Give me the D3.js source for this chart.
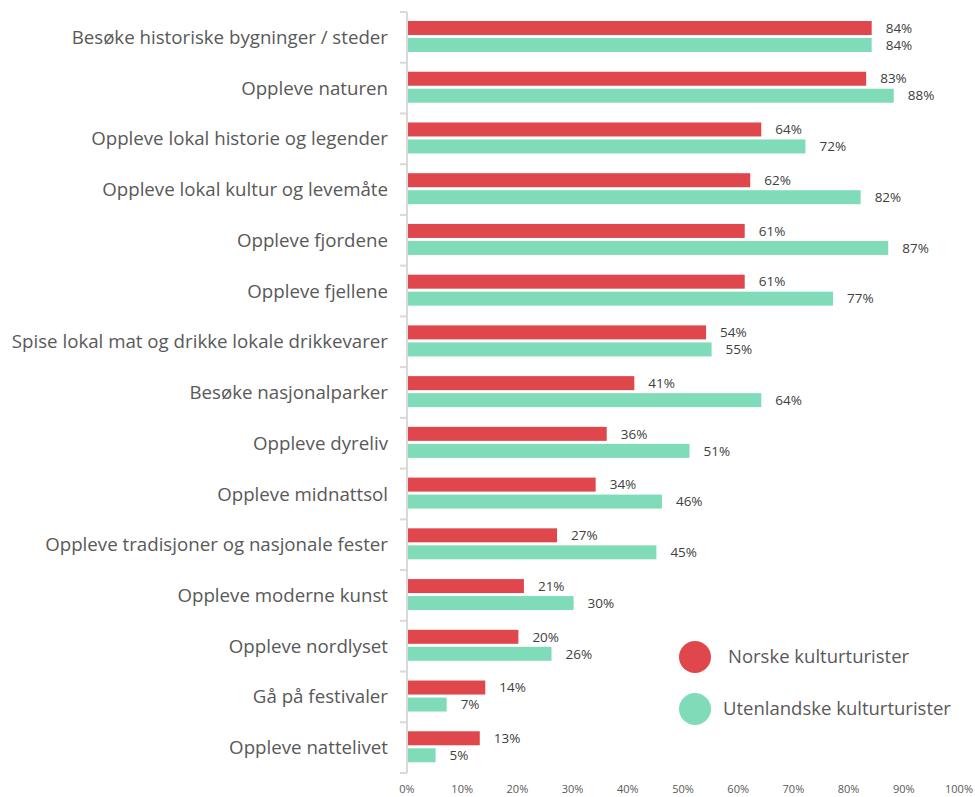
<!DOCTYPE html>
<html>
<head>
<meta charset="utf-8">
<script src="https://cdn.jsdelivr.net/npm/d3@7"></script>
<style>
  body { margin: 0; background: #fff; }
  svg text { font-family: "Open Sans", Lato, sans-serif; }
</style>
</head>
<body>
<div id="chart"></div>
<script>
var categories = [
    "Besøke historiske bygninger / steder",
    "Oppleve naturen",
    "Oppleve lokal historie og legender",
    "Oppleve lokal kultur og levemåte",
    "Oppleve fjordene",
    "Oppleve fjellene",
    "Spise lokal mat og drikke lokale drikkevarer",
    "Besøke nasjonalparker",
    "Oppleve dyreliv",
    "Oppleve midnattsol",
    "Oppleve tradisjoner og nasjonale fester",
    "Oppleve moderne kunst",
    "Oppleve nordlyset",
    "Gå på festivaler",
    "Oppleve nattelivet"
];
var norske = [84, 83, 64, 62, 61, 61, 54, 41, 36, 34, 27, 21, 20, 14, 13];
var utenlandske = [84, 88, 72, 82, 87, 77, 55, 64, 51, 46, 45, 30, 26, 7, 5];
var seriesNames = ["Norske kulturturister", "Utenlandske kulturturister"];
var xTicks = [0, 10, 20, 30, 40, 50, 60, 70, 80, 90, 100];

var width = 975, height = 797;
var colors = ["#e0474c", "#80dcb8"];
var margin = {top: 12, left: 407, right: 16, bottom: 24};

var svg = d3.select("#chart").append("svg")
    .attr("width", width)
    .attr("height", height);

var x = d3.scaleLinear()
    .domain([0, 100])
    .range([margin.left, 959]);

var y = d3.scaleBand()
    .domain(categories)
    .range([margin.top, 773]);

// left axis with ticks at band boundaries
var axisG = svg.append("g");
axisG.append("line")
    .attr("x1", margin.left).attr("x2", margin.left)
    .attr("y1", y.range()[0]).attr("y2", y.range()[1])
    .attr("stroke", "#d9d9d9").attr("stroke-width", 2);
var bounds = categories.map(function (d) { return y(d); }).concat([y.range()[1]]);
axisG.selectAll(".tk").data(bounds).enter().append("line")
    .attr("x1", margin.left - 7).attr("x2", margin.left)
    .attr("y1", function (d) { return d; }).attr("y2", function (d) { return d; })
    .attr("stroke", "#d9d9d9").attr("stroke-width", 2);

// category labels
svg.selectAll(".cat").data(categories).enter().append("text")
    .attr("x", 388)
    .attr("y", function (d) { return y(d) + y.bandwidth() / 2; })
    .attr("dy", "0.35em")
    .attr("text-anchor", "end")
    .attr("font-size", 18.7)
    .attr("fill", "#595959")
    .text(function (d) { return d; });

var barH = 14;
var series = [norske, utenlandske];
var offsets = [9, 26];

series.forEach(function (vals, s) {
    var g = svg.append("g");
    g.selectAll("rect").data(vals).enter().append("rect")
        .attr("x", x(0) + 1)
        .attr("y", function (d, i) { return y(categories[i]) + offsets[s]; })
        .attr("width", function (d) { return x(d) - x(0); })
        .attr("height", barH)
        .attr("fill", colors[s]);
    g.selectAll("text").data(vals).enter().append("text")
        .attr("x", function (d) { return x(d) + 15; })
        .attr("y", function (d, i) { return y(categories[i]) + offsets[s] + barH / 2; })
        .attr("dy", "0.35em")
        .attr("font-size", 13.5)
        .attr("fill", "#404040")
        .text(function (d) { return d + "%"; });
});

// bottom tick labels (no axis line)
svg.selectAll(".xl").data(xTicks).enter().append("text")
    .attr("x", function (d) { return x(d); })
    .attr("y", 793)
    .attr("text-anchor", "middle")
    .attr("font-size", 11)
    .attr("fill", "#595959")
    .text(function (d) { return d + "%"; });

// legend
var legend = svg.append("g");
var legY = [657, 709];
var legX = [728, 723];
seriesNames.forEach(function (name, i) {
    legend.append("circle")
        .attr("cx", 695).attr("cy", legY[i]).attr("r", 16)
        .attr("fill", colors[i]);
    legend.append("text")
        .attr("x", legX[i]).attr("y", legY[i])
        .attr("dy", "0.35em")
        .attr("font-size", 18.5)
        .attr("fill", "#595959")
        .text(name);
});
</script>
</body>
</html>
